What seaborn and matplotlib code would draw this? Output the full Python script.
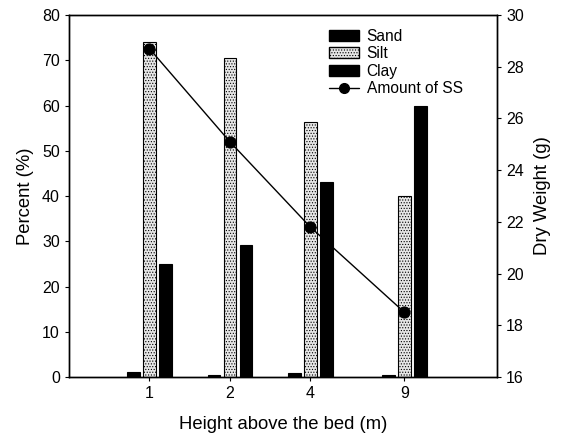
import numpy as np
import pandas as pd
import matplotlib
matplotlib.use("Agg")
import matplotlib.pyplot as plt
from matplotlib.patches import Patch
from matplotlib.lines import Line2D
import seaborn as sns

# ---- data ----
heights = [1, 2, 4, 9]
height_labels = ["1", "2", "4", "9"]
sand = [1.1, 0.5, 1.0, 0.4]
silt = [74.0, 70.5, 56.3, 40.0]
clay = [25.0, 29.1, 43.0, 59.8]
dry_weight = [28.7, 25.1, 21.8, 18.5]
fractions = ["Sand", "Silt", "Clay"]

sns.set_style("ticks")
plt.rcParams["font.family"] = ["Liberation Sans", "DejaVu Sans"]
plt.rcParams["text.color"] = "black"
plt.rcParams["axes.labelcolor"] = "black"
plt.rcParams["hatch.color"] = "#a8a8a8"
plt.rcParams["hatch.linewidth"] = 0.5

SILT_FC = "#e6e6e6"

logh = np.log10(heights)
rows = []
for name, vals in zip(fractions, [sand, silt, clay]):
    for lx, v in zip(logh, vals):
        rows.append({"logh": lx, "pct": v, "fraction": name})
df = pd.DataFrame(rows)
dfl = pd.DataFrame({"logh": logh, "dw": dry_weight})

fig = plt.figure(figsize=(5.65, 4.41), dpi=100)
ax = fig.add_axes([0.122, 0.145, 0.758, 0.821])

palette = {"Sand": "black", "Silt": SILT_FC, "Clay": "black"}
sns.barplot(data=df, x="logh", y="pct", hue="fraction", hue_order=fractions,
            native_scale=True, palette=palette, saturation=1, width=0.6, gap=0.22,
            edgecolor="black", linewidth=0.8, legend=False, ax=ax)

# stipple texture on silt bars
for bar in ax.patches:
    fc = bar.get_facecolor()
    if fc[0] > 0.5:
        bar.set_hatch("......")

ax.set_xlim(np.log10(0.5), np.log10(20))
ax.set_ylim(0, 80)
ax.set_xticks(logh)
ax.set_xticklabels(height_labels)
ax.set_yticks(range(0, 81, 10))
ax.set_xlabel("Height above the bed (m)", fontsize=13.3, labelpad=11, color="black")
ax.set_ylabel("Percent (%)", fontsize=13.3, labelpad=6, color="black")

ax2 = ax.twinx()
sns.lineplot(data=dfl, x="logh", y="dw", color="black", marker="o",
             markersize=8, linewidth=1, markeredgecolor="black", ax=ax2)
ax2.set_ylim(16, 30)
ax2.set_yticks(range(16, 31, 2))
ax2.set_ylabel("Dry Weight (g)", fontsize=13.3, labelpad=7, color="black")
ax2.set_xlim(np.log10(0.5), np.log10(20))

for a in (ax, ax2):
    a.tick_params(labelsize=11.5, direction="out", length=3, width=0.8, colors="black")
    for s in a.spines.values():
        s.set_visible(True)
        s.set_color("black")
        s.set_linewidth(1.0)

handles = [
    Patch(facecolor="black", edgecolor="black"),
    Patch(facecolor=SILT_FC, edgecolor="black", hatch="......"),
    Patch(facecolor="black", edgecolor="black"),
    Line2D([0], [0], color="black", marker="o", markersize=7, linewidth=1),
]
leg = ax2.legend(handles, ["Sand", "Silt", "Clay", "Amount of SS"], loc="upper left",
                 bbox_to_anchor=(0.575, 1.0), frameon=False, fontsize=11.2,
                 handlelength=1.9, handleheight=0.7, labelspacing=0.15, handletextpad=0.5)
for t in leg.get_texts():
    t.set_color("black")

fig.savefig("out.png", dpi=100)
